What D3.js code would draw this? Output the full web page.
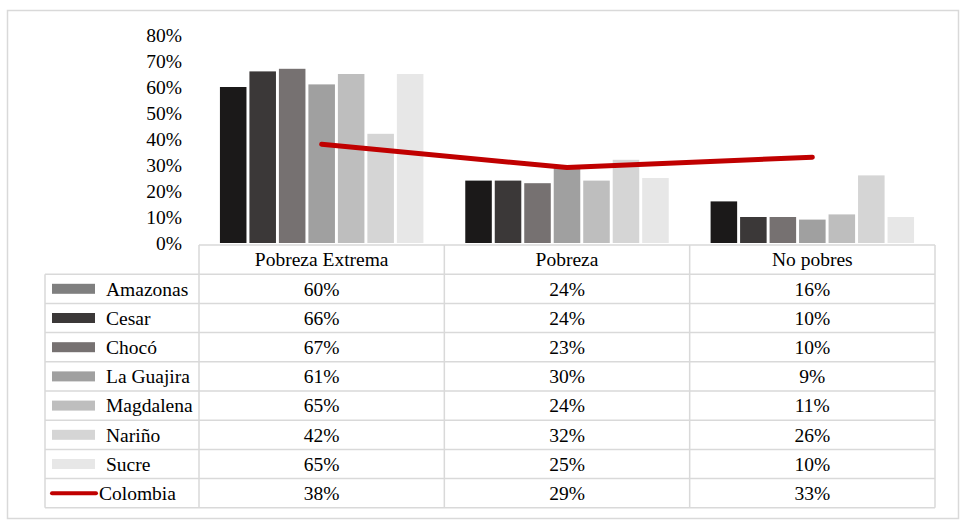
<!DOCTYPE html>
<html><head><meta charset="utf-8">
<script src="https://cdn.jsdelivr.net/npm/d3@7"></script>
</head><body style="margin:0">
<svg id="c" width="969" height="527"></svg>
<script>
const categories = ["Pobreza Extrema", "Pobreza", "No pobres"];
const seriesNames = ["Amazonas", "Cesar", "Chocó", "La Guajira", "Magdalena", "Nariño", "Sucre"];
const amazonas  = [0.60, 0.24, 0.16];
const cesar     = [0.66, 0.24, 0.10];
const choco     = [0.67, 0.23, 0.10];
const laGuajira = [0.61, 0.30, 0.09];
const magdalena = [0.65, 0.24, 0.11];
const narino    = [0.42, 0.32, 0.26];
const sucre     = [0.65, 0.25, 0.10];
const colombia  = [0.38, 0.29, 0.33];
const yTicks = [0, 0.1, 0.2, 0.3, 0.4, 0.5, 0.6, 0.7, 0.8];

const seriesValues = [amazonas, cesar, choco, laGuajira, magdalena, narino, sucre];
const barColors = ["#1b1919", "#3b3838", "#767171", "#a0a0a0", "#bebebe", "#d5d5d5", "#e7e7e7"];
const keyColors = ["#7f7f7f", "#3b3838", "#767171", "#a0a0a0", "#bebebe", "#d5d5d5", "#e7e7e7"];
const lineColor = "#c00000";
const gridColor = "#d9d9d9";
const FONT = "Liberation Serif";
const FS = 19.5;

const svg = d3.select("#c");
svg.append("rect").attr("x", 7.5).attr("y", 10.5).attr("width", 951).attr("height", 508)
  .attr("fill", "#fff").attr("stroke", gridColor).attr("stroke-width", 1.5);

const x0 = d3.scaleBand().domain(categories).range([199, 935]);
const x1 = d3.scaleBand().domain(seriesNames).range([0, x0.bandwidth()]).paddingInner(0.1).paddingOuter(0.71);
const y = d3.scaleLinear().domain([0, 0.8]).range([243, 35]);

function txt(parent, x, yy, s, anchor) {
  return parent.append("text").attr("x", x).attr("y", yy).attr("dy", "0.35em")
    .attr("font-size", FS).attr("font-family", FONT).attr("fill", "#000")
    .attr("text-anchor", anchor || "start").text(s);
}

const fmt = d3.format(".0%");
const ga = svg.append("g");
yTicks.forEach(t => txt(ga, 182, y(t), fmt(t), "end"));

seriesNames.forEach((s, i) => {
  svg.append("g").selectAll("rect").data(seriesValues[i]).join("rect")
    .attr("x", (d, j) => x0(categories[j]) + x1(s))
    .attr("y", d => y(d))
    .attr("width", x1.bandwidth())
    .attr("height", d => y(0) - y(d))
    .attr("fill", barColors[i]);
});

const line = d3.line().x((d, j) => x0(categories[j]) + x0.bandwidth() / 2).y(d => y(d));
svg.append("path").datum(colombia).attr("d", line).attr("fill", "none")
  .attr("stroke", lineColor).attr("stroke-width", 5).attr("stroke-linecap", "round").attr("stroke-linejoin", "round");

const tTop = 245, rowH = 29.2, labelLeft = 45;
const rows = seriesNames.concat(["Colombia"]);
const allValues = seriesValues.concat([colombia]);
const tg = svg.append("g");
categories.forEach(c => txt(tg, x0(c) + x0.bandwidth() / 2, tTop + rowH / 2, c, "middle"));
rows.forEach((r, i) => {
  const cy = tTop + rowH * (i + 1) + rowH / 2;
  if (i < seriesNames.length) {
    tg.append("rect").attr("x", 52).attr("y", cy - 5).attr("width", 43).attr("height", 10).attr("fill", keyColors[i]);
    txt(tg, 106, cy, r);
  } else {
    tg.append("line").attr("x1", 52).attr("x2", 96).attr("y1", cy).attr("y2", cy)
      .attr("stroke", lineColor).attr("stroke-width", 4).attr("stroke-linecap", "round");
    txt(tg, 99, cy, r);
  }
  categories.forEach((c, j) => txt(tg, x0(c) + x0.bandwidth() / 2, cy, fmt(allValues[i][j]), "middle"));
});
const tBottom = tTop + rowH * 9;
const lg = svg.append("g").attr("stroke", gridColor).attr("stroke-width", 1.5);
lg.append("line").attr("x1", 199).attr("x2", 935).attr("y1", tTop).attr("y2", tTop);
for (let i = 1; i <= 9; i++) {
  const yy = tTop + rowH * i;
  lg.append("line").attr("x1", labelLeft).attr("x2", 935).attr("y1", yy).attr("y2", yy);
}
[199, x0(categories[1]), x0(categories[2]), 935].forEach(xx => {
  lg.append("line").attr("x1", xx).attr("x2", xx).attr("y1", tTop).attr("y2", tBottom);
});
lg.append("line").attr("x1", labelLeft).attr("x2", labelLeft).attr("y1", tTop + rowH).attr("y2", tBottom);
</script></body></html>
